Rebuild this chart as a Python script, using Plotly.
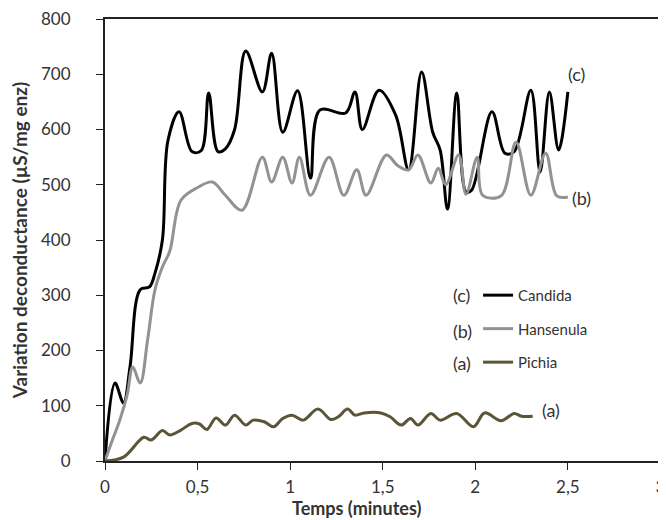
import plotly.graph_objects as go

# Candida (c)
candida_t = [0, 0.054, 0.10, 0.135, 0.19, 0.24, 0.27, 0.31, 0.34, 0.40, 0.47, 0.52, 0.56, 0.61,
             0.65, 0.70, 0.76, 0.85, 0.90, 0.96, 1.04, 1.11, 1.16, 1.30, 1.35, 1.39, 1.48, 1.57,
             1.64, 1.71, 1.77, 1.81, 1.85, 1.90, 1.95, 1.98, 2.09, 2.16, 2.21, 2.30, 2.35, 2.40,
             2.45, 2.50]
candida_v = [0, 141, 105, 170, 310, 315, 340, 400, 580, 632, 560, 562, 666, 560,
             565, 600, 742, 668, 738, 595, 670, 512, 635, 630, 668, 600, 671, 626,
             527, 704, 595, 563, 456, 666, 487, 490, 632, 557, 560, 671, 523, 668,
             563, 668]

# Hansenula (b)
hansenula_t = [0, 0.04, 0.08, 0.12, 0.15, 0.19, 0.23, 0.27, 0.31, 0.35, 0.41, 0.50, 0.58, 0.65,
               0.74, 0.85, 0.90, 0.96, 1.01, 1.05, 1.11, 1.21, 1.29, 1.36, 1.41, 1.52, 1.58,
               1.64, 1.69, 1.76, 1.80, 1.84, 1.91, 1.95, 2.01, 2.04, 2.14, 2.22, 2.30, 2.38,
               2.44, 2.50]
hansenula_v = [0, 38, 74, 120, 170, 141, 219, 310, 351, 380, 472, 495, 505, 481,
               454, 550, 505, 550, 503, 550, 481, 550, 481, 527, 481, 554, 535,
               527, 554, 503, 530, 500, 554, 483, 550, 481, 480, 577, 481, 557,
               480, 478]

# Pichia (a)
pichia_t = [0, 0.10, 0.21, 0.25, 0.31, 0.35, 0.41, 0.47, 0.51, 0.55, 0.60, 0.65, 0.70, 0.76,
            0.80, 0.86, 0.91, 0.96, 1.01, 1.07, 1.15, 1.22, 1.26, 1.31, 1.35, 1.40, 1.49,
            1.54, 1.60, 1.65, 1.69, 1.76, 1.81, 1.90, 1.99, 2.05, 2.14, 2.21, 2.25, 2.31]
pichia_v = [0, 7, 43, 38, 55, 47, 56, 68, 67, 57, 78, 65, 83, 65,
            74, 71, 62, 77, 83, 74, 94, 75, 80, 94, 83, 87, 87,
            80, 65, 77, 65, 86, 74, 86, 62, 87, 73, 86, 81, 81]

x_ticks = [0, 0.5, 1, 1.5, 2, 2.5, 3]
x_tick_labels = ['0', '0,5', '1', '1,5', '2', '2,5', '3']

font = 'Lato, Open Sans, sans-serif'
txt = '#333333'

fig = go.Figure()

fig.add_trace(go.Scatter(x=candida_t, y=candida_v, name='Candida', legendgroup='c',
                         mode='lines', line=dict(color='#000000', width=3, shape='spline', smoothing=1)))
fig.add_trace(go.Scatter(x=hansenula_t, y=hansenula_v, name='Hansenula', legendgroup='b',
                         mode='lines', line=dict(color='#929292', width=3, shape='spline', smoothing=1)))
fig.add_trace(go.Scatter(x=pichia_t, y=pichia_v, name='Pichia', legendgroup='a',
                         mode='lines', line=dict(color='#5b5538', width=3, shape='spline', smoothing=1)))

# curve end labels
for lx, ly, lt in [(2.49, 700, '(c)'), (2.51, 476, '(b)'), (2.35, 92, '(a)')]:
    fig.add_annotation(x=lx, y=ly, text=lt, showarrow=False, xanchor='left',
                       font=dict(family=font, size=18, color=txt))

# legend prefixes
for ly, lt in [(300, '(c)'), (235, '(b)'), (177, '(a)')]:
    fig.add_annotation(x=1.87, y=ly, text=lt, showarrow=False, xanchor='left',
                       font=dict(family=font, size=18, color=txt))

# x axis title sits a bit left of centre, right under the tick labels
fig.add_annotation(xref='paper', yref='paper', x=0.449, y=0, yshift=-34,
                   xanchor='center', yanchor='top', showarrow=False,
                   text='<b>Temps (minutes)</b>', font=dict(family=font, size=18, color=txt))

# the page body adds 8px around the figure, so the figure is 8px smaller
fig.update_layout(
    width=658, height=512,
    margin=dict(l=97, r=0, t=11, b=59),
    plot_bgcolor='white', paper_bgcolor='white',
    font=dict(family=font, size=15, color=txt),
    legend=dict(x=0.665, y=0.412, xanchor='left', yanchor='top',
                bgcolor='rgba(0,0,0,0)', tracegroupgap=11,
                font=dict(family=font, size=15, color=txt)),
)

fig.update_xaxes(range=[0, 3.03], tickvals=x_ticks, ticktext=x_tick_labels, automargin=False,
                 showgrid=False, zeroline=False, showline=True, linecolor='#222', linewidth=2,
                 mirror=True, ticks='outside', ticklen=7, tickcolor='#222',
                 tickfont=dict(size=17), ticklabelstandoff=3, ticklabeloverflow='allow')
fig.update_yaxes(range=[0, 800], dtick=100, automargin=False,
                 showgrid=False, zeroline=False, showline=True, linecolor='#222', linewidth=2,
                 ticks='outside', ticklen=7, tickcolor='#222',
                 tickfont=dict(size=17), ticklabelstandoff=22, ticklabeloverflow='allow',
                 title=dict(text='<b>Variation deconductance (µS/mg enz)</b>', standoff=8,
                            font=dict(family=font, size=19, color=txt)))

fig.write_html('out.html')
